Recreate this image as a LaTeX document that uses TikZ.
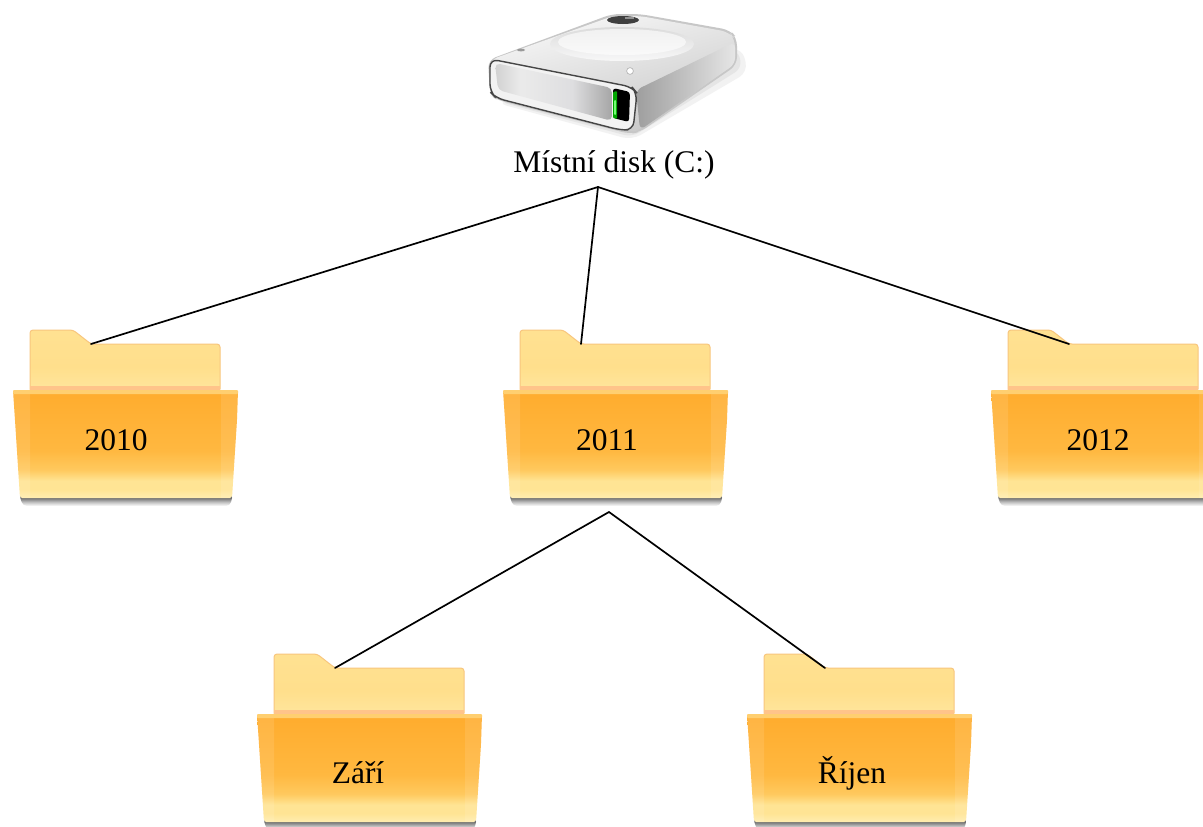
\documentclass[tikz,border=0pt]{standalone}
\usepackage{fontspec}
\setmainfont{Liberation Serif}
\usetikzlibrary{fadings}
\definecolor{fedge}{HTML}{F8C67E}
\definecolor{fbacka}{HTML}{FFDF8C}
\definecolor{fbackb}{HTML}{FFE69E}
\definecolor{flip}{HTML}{FFC48A}
\definecolor{frima}{HTML}{FFCF70}
\definecolor{fronta}{HTML}{FFAD2F}
\definecolor{frontb}{HTML}{FFB840}
\definecolor{frontc}{HTML}{FFC95E}
\definecolor{frontd}{HTML}{FFE494}
\definecolor{fronte}{HTML}{FFEDB0}
\definecolor{diskdark}{HTML}{454545}
\pgfdeclareverticalshading{frontshade}{100bp}{
 color(0bp)=(fronte); color(25bp)=(fronte); color(29bp)=(frontd); color(33bp)=(frontd);
 color(38bp)=(frontc); color(47bp)=(frontb); color(72bp)=(fronta); color(100bp)=(fronta)}
\pgfdeclareverticalshading{backshade}{100bp}{
 color(0bp)=(fbackb); color(25bp)=(fbackb); color(45bp)=(fbacka); color(75bp)=(fbacka!70!fbackb); color(100bp)=(fbacka!70!fbackb)}
\pgfdeclareverticalshading{shadowshade}{100bp}{
 color(0bp)=(white); color(25bp)=(white); color(42bp)=(black!25); color(62bp)=(black!62); color(75bp)=(black!62); color(100bp)=(black!62)}
\pgfdeclarehorizontalshading{panelshade}{100bp}{
 color(0bp)=(black!18); color(25bp)=(black!18); color(36bp)=(black!8); color(58bp)=(blue!6!black!13); color(75bp)=(black!35); color(100bp)=(black!35)}
\tikzset{
 x=1pt,y=-1pt,
 link/.style={draw=black,line width=1.7pt,line cap=round},
 label text/.style={font=\fontsize{31.5}{36}\selectfont,text=black,inner sep=0pt},
 disk label/.style={font=\fontsize{31.5}{36}\selectfont,text=black,inner sep=0pt},
 folder/.pic={
  \path[shading=shadowshade,rounded corners=4pt] (6,164) -- (220,164) -- (217,176) -- (10,176) -- cycle;
  \path[shading=backshade,draw=fedge,line width=1pt,rounded corners=3pt]
    (17,62) -- (17,0) -- (60,0) -- (78,14) -- (207,14) -- (207,62) -- cycle;
  \fill[flip] (17,56) rectangle (207,61);
  \path[shading=frontshade,rounded corners=2pt]
    (0,60) -- (225,60) -- (224,90) -- (219,168) -- (7,168) -- (2,90) -- cycle;
  \fill[white,opacity=.10] (0,60) -- (17,60) -- (17,168) -- (7,168) -- (2,90) -- cycle;
  \fill[white,opacity=.10] (225,60) -- (208,60) -- (208,168) -- (219,168) -- (224,90) -- cycle;
  \fill[frima,rounded corners=1pt] (0,60) rectangle (225,64);
  \coordinate (-notch) at (78,14);
 }
}
\begin{document}
\begin{tikzpicture}
\useasboundingbox (0,0) rectangle (1203,827);
\fill[white] (0,0) rectangle (1203,827);
\begin{scope}
\clip (0,0) rectangle (1203,827);
% disk shadow
\fill[black!5,rounded corners=10pt] (497,103) -- (632,140) -- (748,72) -- (742,48) -- (640,60) -- cycle;
\fill[black!10,rounded corners=8pt] (500,102) -- (632,137) -- (742,68) -- (738,50) -- (640,60) -- cycle;
% disk body
\fill[black!22,rounded corners=8pt] (488,60) -- (612,14) -- (640,14) -- (730,30) -- (737,38) -- (737,65) -- (640,132) -- (630,134) -- (497,100) -- (490,95) -- cycle;
\shade[top color=black!3,bottom color=black!22,shading angle=15,rounded corners=8pt]
  (490,60) -- (613,16) -- (640,16) -- (729,32) -- (735,39) -- (735,64) -- (640,130) -- (630,132) -- (498,99) -- (492,94) -- cycle;
% right side lower band
\shade[left color=black!38,right color=black!10,rounded corners=6pt] (636,90) -- (735,42) -- (735,64) -- (640,130) -- cycle;
% platter
\shade[top color=black!14,bottom color=blue!6!black!3] (622,44) ellipse [x radius=72,y radius=17];
\fill[white,opacity=.6] (622,42) ellipse [x radius=64,y radius=13];
% spindle
\fill[black!75] (623,20) ellipse [x radius=16,y radius=4];
\fill[black!35,opacity=.8] (625,17) rectangle (634,19);
% screws
\fill[black!40] (521,50) ellipse [x radius=4,y radius=1.4];
\fill[white] (630,71) circle (3);
\draw[black!30,line width=.6pt] (630,71) circle (3.4);
% front bezel
\path[fill=black!5,draw=diskdark,line width=1.4pt,rounded corners=8pt]
  (490,59) -- (632,87) -- (637,93) -- (633,130) -- (620,130) -- (496,98) -- (490,92) -- cycle;
\path[shading=panelshade,rounded corners=5pt] (495,63) -- (612,88) -- (612,121) -- (498,90) -- cycle;
% slot
\fill[black,rounded corners=3pt] (613,88) -- (630,92) -- (629,122) -- (613,118) -- cycle;
\fill[green!65!black,rounded corners=1pt] (613,92) -- (617,91) -- (617,119) -- (613,118) -- cycle;
\fill[green!55,rounded corners=1pt] (614,100) rectangle (616,115);
\end{scope}
\node[disk label] (disk) at (614,165) {Místní disk (C:)};
\coordinate (hubtop) at (598,187);
\coordinate (hubmid) at (609,512);
\pic (a) at (13,330) {folder};
\pic (b) at (503,330) {folder};
\pic (c) at (991,330) {folder};
\begin{scope}
\clip (0,0) rectangle (1203,827);
\pic (d) at (257,654) {folder};
\pic (e) at (747,654) {folder};
\end{scope}
\node[label text] (t2010) at (116,440) {2010};
\node[label text] (t2011) at (607,440) {2011};
\node[label text] (t2012) at (1098,440) {2012};
\node[label text] (tzari) at (358,773) {Září};
\node[label text] (trijen) at (852,773) {Říjen};
\draw[link] (hubtop) -- (a-notch);
\draw[link] (hubtop) -- (b-notch);
\draw[link] (hubtop) -- (c-notch);
\draw[link] (hubmid) -- (d-notch);
\draw[link] (hubmid) -- (e-notch);
\end{tikzpicture}
\end{document}
